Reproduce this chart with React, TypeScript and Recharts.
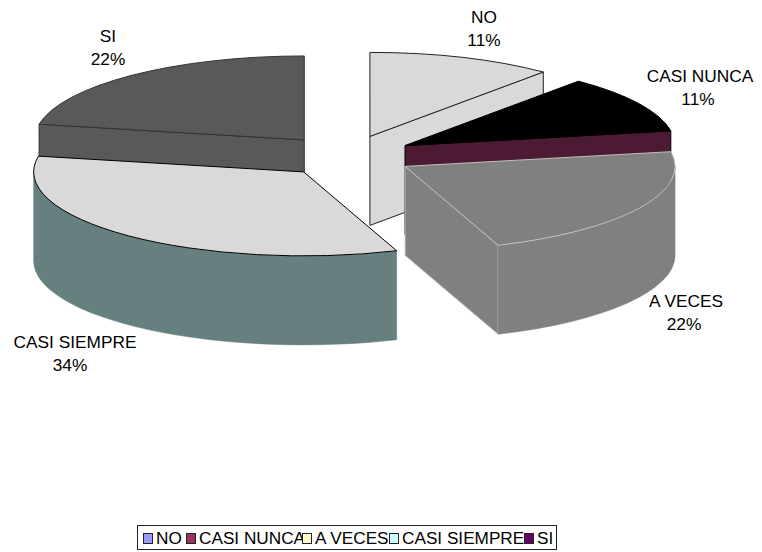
import React from 'react';
import { PieChart, Pie, Legend } from 'recharts';

const categories = ['NO', 'CASI NUNCA', 'A VECES', 'CASI SIEMPRE', 'SI'];
const shares = [11.1, 11.1, 22.2, 33.6, 22];

// top face, side wall and outline of each slice
const topColors = ['#d9d9d9', '#000000', '#808080', '#d9d9d9', '#595959'];
const wallColors = ['#d9d9d9', '#4d1a33', '#808080', '#667f7f', '#595959'];
const edgeColors = ['#222222', '#000000', '#c0c0c0', '#000000', '#333333'];
const keyColors = ['#9999ff', '#993366', '#ffffcc', '#ccffff', '#660066'];

// x of the name, x of the percentage, baseline of the name
const labelSpots = [
	[484, 484, 23],
	[700, 698, 82],
	[686, 684, 307],
	[75, 70, 348],
	[108, 108, 42],
];
// left edge of each legend key inside the box
const keySpots = [5, 48, 164, 251, 386];

const data = categories.map((name, i) => ({ name, value: shares[i] }));

// the slices further back get painted first
const backLayer = [0, 4];
const frontLayer = [1, 2, 3];

const SQUASH = 84 / 270;
const DEPTH = 89;
const EXPLODE = 67;

const RAD = Math.PI / 180;

const norm = (a: number) => ((a % 360) + 360) % 360;

const SliceShape = (props: any, layer: number[]) => {
	const { cx, cy, outerRadius, startAngle, endAngle, midAngle, name } = props;
	const index = categories.indexOf(name);
	if (!layer.includes(index)) return <g />;

	const ox = cx + EXPLODE * Math.cos(midAngle * RAD);
	const oy = cy - EXPLODE * SQUASH * Math.sin(midAngle * RAD);
	const rx = outerRadius;
	const ry = outerRadius * SQUASH;
	const rim = (a: number, drop = 0) => [ox + rx * Math.cos(a * RAD), oy - ry * Math.sin(a * RAD) + drop];
	const from = Math.max(startAngle, endAngle);
	const to = Math.min(startAngle, endAngle);
	const p = (pt: number[]) => `${pt[0].toFixed(2)} ${pt[1].toFixed(2)}`;
	const arc = (a: number, b: number, drop = 0, sweep = 1) =>
		`A ${rx} ${ry} 0 ${Math.abs(a - b) > 180 ? 1 : 0} ${sweep} ${p(rim(b, drop))}`;

	const edge = edgeColors[index];
	const wall = wallColors[index];
	const radialWall = (a: number) => (
		<path
			d={`M ${ox} ${oy} L ${p(rim(a))} L ${p(rim(a, DEPTH))} L ${ox} ${oy + DEPTH} Z`}
			fill={wall}
			stroke={edge}
			strokeWidth={1}
		/>
	);

	// a cut face shows only when it turns towards the viewer
	const fromFaces = norm(from) > 90 && norm(from) < 270;
	const toFaces = norm(to) > 270 || norm(to) < 90;

	// only the lower half of the rim shows a curved wall: 180deg to 360deg in chart angles
	const lo = norm(to);
	const hi = lo + (from - to);
	const wallFrom = Math.max(lo, 180);
	const wallTo = Math.min(hi, 360);
	const hasRimWall = wallTo > wallFrom;

	return (
		<g>
			{fromFaces && radialWall(from)}
			{toFaces && radialWall(to)}
			{hasRimWall && (
				<path
					d={`M ${p(rim(wallFrom))} ${arc(wallFrom, wallTo, 0, 0)} L ${p(rim(wallTo, DEPTH))} ${arc(wallTo, wallFrom, DEPTH, 1)} Z`}
					fill={wall}
					stroke={wall}
					strokeWidth={0.5}
				/>
			)}
			<path
				d={`M ${ox} ${oy} L ${p(rim(from))} ${arc(from, to)} Z`}
				fill={topColors[index]}
				stroke={edge}
				strokeWidth={1}
			/>
		</g>
	);
};

const SliceLabel = (props: any) => {
	const index = categories.indexOf(props.name);
	const [nameX, pctX, y] = labelSpots[index];
	return (
		<text textAnchor="middle" fontFamily="Liberation Sans" fontSize={17.3} fill="#000000">
			<tspan x={nameX} y={y}>
				{props.name}
			</tspan>
			<tspan x={pctX} y={y + 23}>
				{`${Math.round(props.percent * 100)}%`}
			</tspan>
		</text>
	);
};

const KeyBox = () => (
	<div
		style={{
			position: 'relative',
			boxSizing: 'border-box',
			width: 420,
			height: 25,
			border: '1px solid #222222',
			background: '#ffffff',
			fontFamily: 'Liberation Sans',
			fontSize: 17.2,
			lineHeight: '24px',
			color: '#000000',
		}}
	>
		{categories.map((name, i) => (
			<React.Fragment key={name}>
				<span style={{ position: 'absolute', left: keySpots[i] + 13, top: 0, whiteSpace: 'nowrap' }}>{name}</span>
				<span
					style={{
						position: 'absolute',
						boxSizing: 'border-box',
						left: keySpots[i],
						top: 7,
						width: 10,
						height: 11,
						background: keyColors[i],
						border: '1px solid #222222',
					}}
				/>
			</React.Fragment>
		))}
	</div>
);

const App = () => {
	return (
		<div style={{ position: 'absolute', left: 0, top: 0 }}>
			<PieChart width={762} height={552} margin={{ top: 0, right: 0, bottom: 0, left: 0 }}>
				<Pie
					data={data}
					dataKey="value"
					nameKey="name"
					cx={347}
					cy={156}
					outerRadius={270}
					startAngle={90}
					endAngle={-270}
					stroke="none"
					legendType="none"
					isAnimationActive={false}
					shape={(props: any) => SliceShape(props, backLayer)}
				/>
				<Pie
					data={data}
					dataKey="value"
					nameKey="name"
					cx={347}
					cy={156}
					outerRadius={270}
					startAngle={90}
					endAngle={-270}
					stroke="none"
					isAnimationActive={false}
					shape={(props: any) => SliceShape(props, frontLayer)}
					label={SliceLabel}
					labelLine={false}
				/>
				<Legend
					content={<KeyBox />}
					layout="horizontal"
					wrapperStyle={{ position: 'absolute', left: 137, top: 525, width: 420, bottom: 'auto' }}
				/>
			</PieChart>
		</div>
	);
};

export default App;
